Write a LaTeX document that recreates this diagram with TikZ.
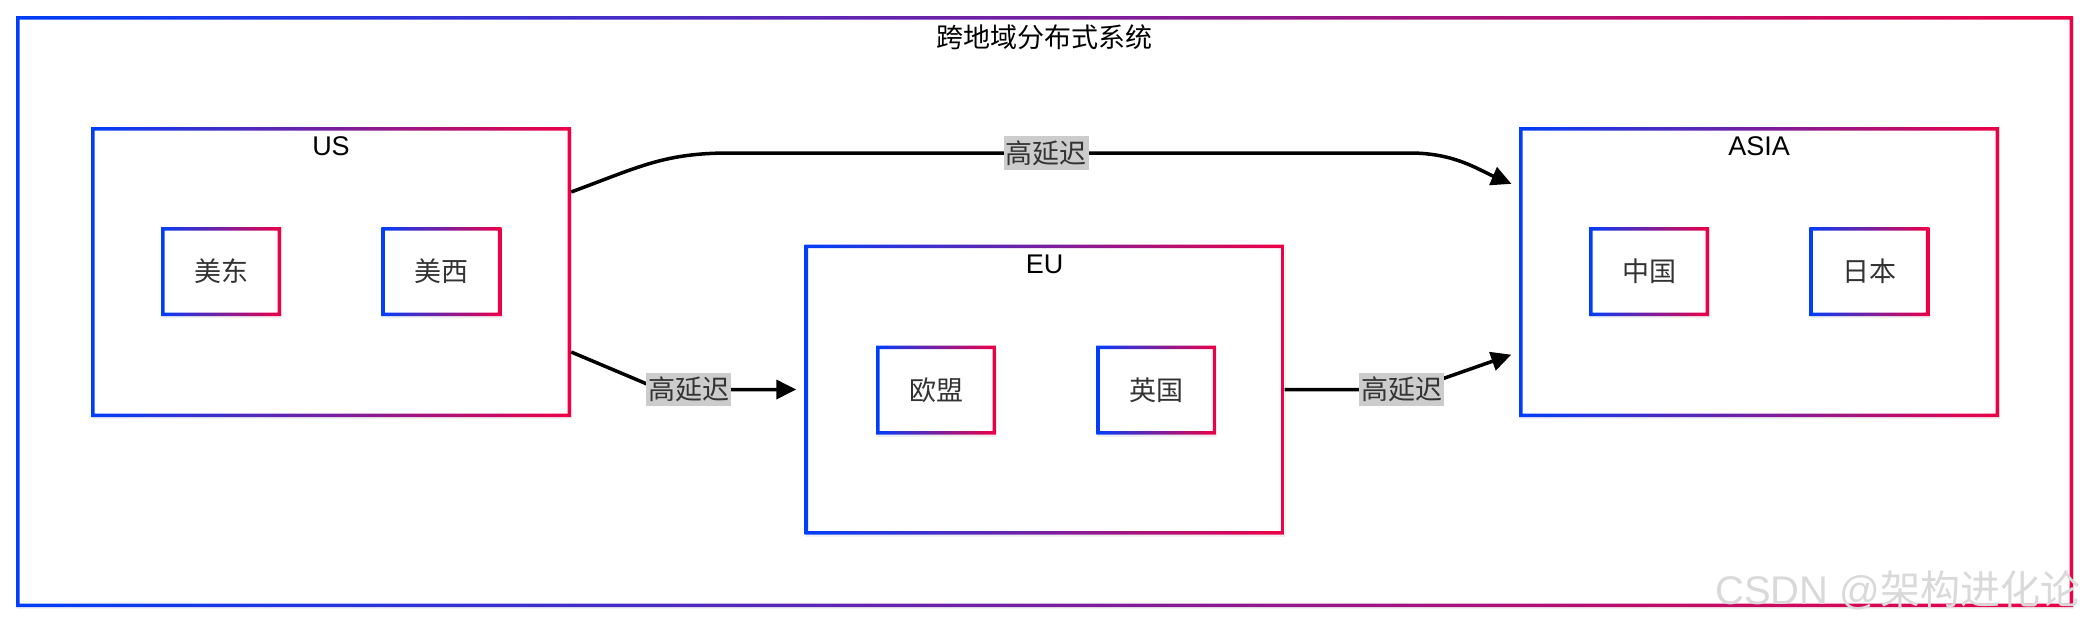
\documentclass[tikz,border=0pt]{standalone}
\usepackage{fontspec}
\setmainfont{Liberation Sans}
\newfontfamily\cjk{Noto Sans CJK SC}
\usetikzlibrary{arrows.meta,positioning,shadows}
\definecolor{gblue}{RGB}{0,62,250}
\definecolor{gred}{RGB}{238,0,70}
\definecolor{tagbg}{RGB}{204,204,204}
\definecolor{ink}{RGB}{51,51,51}
\newcommand\bigfs{\fontsize{27}{32}\selectfont}

\begin{document}
\begin{tikzpicture}[x=1pt,y=-1pt,>={Triangle[length=20pt,width=19pt]},font=\bigfs,
  grad/.style={fill=white,drop shadow={opacity=0.12,shadow xshift=1pt,shadow yshift=-2pt},
    path picture={\shade[left color=gblue,right color=gred,even odd rule]
      (path picture bounding box.south west) rectangle (path picture bounding box.north east)
      ([shift={(3.5pt,3.5pt)}]path picture bounding box.south west) rectangle ([shift={(-3.5pt,-3.5pt)}]path picture bounding box.north east);}},
  region/.style={grad,minimum width=480pt,minimum height=290pt,inner sep=0pt},
  site/.style={grad,minimum width=120pt,minimum height=89pt,inner sep=0pt,text=ink,font=\bigfs\cjk},
  head/.style={inner sep=0pt,anchor=north},
  tag/.style={fill=tagbg,inner xsep=2pt,inner ysep=4pt,text=ink,font=\bigfs\cjk},
  link/.style={->,line width=3.5pt,shorten >=8pt}]
\useasboundingbox (0,0) rectangle (2090,621);
\node[region,minimum width=2057pt,minimum height=591pt] (sys) at (1044.5,311.5) {};
\node[head,below=9pt of sys.north,font=\bigfs\cjk] (sysT) {跨地域分布式系统};
\node[region] (us) at (331,272) {};
\node[region] (eu) at (1044.5,389.5) {};
\node[region] (asia) at (1759,272) {};
\node[head,below=10pt of us.north] (usT) {US};
\node[head,below=10pt of eu.north] (euT) {EU};
\node[head,below=10pt of asia.north] (asiaT) {ASIA};
\node[site] (usE) at (221,271.5) {美东};
\node[site,right=100pt of usE] (usW) {美西};
\node[site] (euU) at (936,390) {欧盟};
\node[site,right=100pt of euU] (euUK) {英国};
\node[site] (cn) at (1649,271.5) {中国};
\node[site,right=100pt of cn] (jp) {日本};
\coordinate (topL) at (730,153);
\coordinate (topR) at (1410,153);
\coordinate (bendB) at (660,389.5);
\coordinate (bendC) at (1412,389.5);
\draw[link] ([yshift=80pt]us.east) .. controls +(70,-26) and +(-65,0) .. (topL)
  -- node[tag,pos=0.465] {高延迟} (topR) .. controls +(45,0) and +(-40,-17) .. ([yshift=85pt]asia.west);
\draw[link] ([yshift=-80pt]us.east) -- (bendB) -- node[tag,pos=0.2] {高延迟} (eu.west);
\draw[link] (eu.east) -- node[tag,pos=0.92] {高延迟} (bendC) -- ([yshift=-80pt]asia.west);
\node[anchor=east,text=gray!30,font=\fontsize{40}{44}\selectfont] (mark) at (2084,590) {CSDN @{\cjk 架构进化论}};
\end{tikzpicture}
\end{document}
